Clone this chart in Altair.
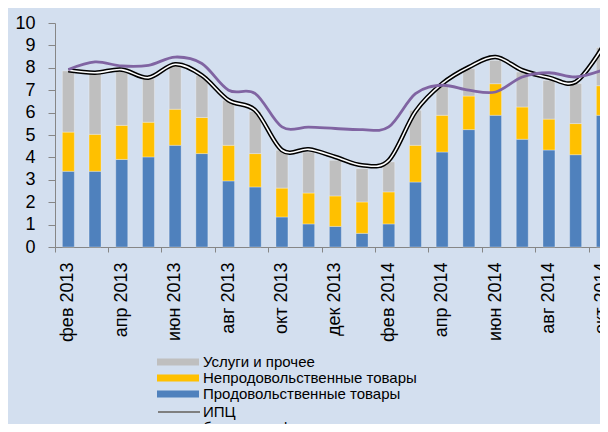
import altair as alt
import pandas as pd

months = ["фев 2013", "мар 2013", "апр 2013", "май 2013", "июн 2013", "июл 2013",
          "авг 2013", "сен 2013", "окт 2013", "ноя 2013", "дек 2013", "янв 2014",
          "фев 2014", "мар 2014", "апр 2014", "май 2014", "июн 2014", "июл 2014",
          "авг 2014", "сен 2014", "окт 2014"]

food = [3.38, 3.38, 3.91, 4.02, 4.54, 4.17, 2.95, 2.68, 1.34, 1.03, 0.92, 0.61,
        1.03, 2.90, 4.24, 5.24, 5.88, 4.81, 4.33, 4.12, 5.88]
nonfood = [1.75, 1.65, 1.52, 1.55, 1.61, 1.61, 1.59, 1.49, 1.29, 1.38, 1.36, 1.40,
           1.43, 1.64, 1.64, 1.50, 1.41, 1.44, 1.38, 1.39, 1.32]
services = [2.73, 2.77, 2.47, 1.93, 1.95, 1.88, 2.01, 1.88, 1.69, 1.83, 1.59, 1.49,
            1.34, 1.56, 1.32, 1.22, 1.04, 1.56, 1.73, 1.79, 1.70]
cpi = [7.89, 7.78, 7.92, 7.56, 8.16, 7.66, 6.55, 6.10, 4.32, 4.36, 4.02, 3.65,
       3.87, 6.05, 7.29, 8.03, 8.48, 7.89, 7.56, 7.37, 8.90]
core = [7.92, 8.26, 8.08, 8.11, 8.48, 8.19, 7.00, 6.85, 5.36, 5.35, 5.29, 5.24,
        5.36, 6.85, 7.22, 7.00, 6.92, 7.59, 7.78, 7.59, 7.89]

bar_names = ["Услуги и прочее", "Непродовольственные товары", "Продовольственные товары"]
bar_colors = ["#BFBFBF", "#FFC000", "#4F81BD"]
line_names = ["\u00a0ИПЦ", "базовая инфляция"]
line_colors = ["#7F7F7F", "#8064A2"]

rows = []
for i, m in enumerate(months):
    for k, (name, vals) in enumerate([("Продовольственные товары", food),
                                      ("Непродовольственные товары", nonfood),
                                      ("Услуги и прочее", services)]):
        rows.append({"month": m, "cat": name, "value": vals[i], "ord": k})
bars_df = pd.DataFrame(rows)
lines_df = pd.DataFrame({"month": months, "cpi": cpi, "core": core,
                         "core_name": ["базовая инфляция"] * len(months)})

FONT = "Liberation Sans"
AX = "#868686"

x_enc = alt.X("month:N", sort=months,
              scale=alt.Scale(range=[0, 560.7], paddingInner=0, paddingOuter=0),
              axis=alt.Axis(values=months[::2], labelAngle=-90, bandPosition=0,
                            title=None, tickSize=5, labelPadding=10,
                            labelFontSize=18, labelFont=FONT, labelColor="black",
                            domainColor=AX, tickColor=AX, labelOverlap=False,
                            labelBound=False, labelFlush=False))
y_axis = alt.Axis(values=list(range(11)), title=None, grid=False, tickSize=7,
                  labelPadding=13, labelFontSize=18, labelFont=FONT,
                  labelColor="black", domainColor=AX, tickColor=AX)
y_scale = alt.Scale(domain=[0, 10], nice=False)

bars = alt.Chart(bars_df).mark_bar(size=12, stroke="white", strokeOpacity=0.3,
                                   strokeWidth=1).encode(
    x=x_enc,
    y=alt.Y("value:Q", stack="zero", scale=y_scale, axis=y_axis),
    color=alt.Color("cat:N",
                    scale=alt.Scale(domain=bar_names, range=bar_colors),
                    legend=alt.Legend(orient="none", legendX=102, legendY=331,
                                      title=None, direction="vertical",
                                      symbolType="M-1,-0.17H1V0.17H-1Z",
                                      symbolSize=1764, symbolStrokeWidth=0,
                                      symbolOpacity=1, clipHeight=16,
                                      rowPadding=0, labelOffset=4, padding=0,
                                      labelFontSize=15, labelFont=FONT,
                                      labelColor="black", labelLimit=400)),
    order=alt.Order("ord:Q"),
)

cpi_black = alt.Chart(lines_df).mark_line(color="black", strokeWidth=4.6,
                                          interpolate="cardinal").encode(
    x=x_enc, y=alt.Y("cpi:Q", scale=y_scale, axis=y_axis))
cpi_white = alt.Chart(lines_df).mark_line(color="white", strokeWidth=1.6,
                                          interpolate="cardinal").encode(
    x=x_enc, y=alt.Y("cpi:Q", scale=y_scale, axis=y_axis))
core_line = alt.Chart(lines_df).mark_line(strokeWidth=2.8,
                                          interpolate="cardinal").encode(
    x=x_enc, y=alt.Y("core:Q", scale=y_scale, axis=y_axis),
    stroke=alt.Stroke("core_name:N",
                      scale=alt.Scale(domain=line_names, range=line_colors),
                      legend=alt.Legend(orient="none", legendX=102, legendY=381,
                                        title=None, direction="vertical",
                                        symbolType="stroke", symbolSize=1764,
                                        symbolStrokeWidth=2, clipHeight=16,
                                        rowPadding=0, labelOffset=2, padding=0,
                                        labelFontSize=15, labelFont=FONT,
                                        labelColor="black", labelLimit=400)),
)

chart = alt.layer(bars, cpi_black, cpi_white, core_line).properties(
    width=545, height=224,
    autosize=alt.AutoSizeParams(type="none"),
    padding={"left": 47, "top": 15, "right": 0, "bottom": 177},
    background="#D3DFEF",
).configure_view(stroke=None).configure_axis(labelFont=FONT)

chart.save("out.html", embed_options={"renderer": "svg", "actions": False})
